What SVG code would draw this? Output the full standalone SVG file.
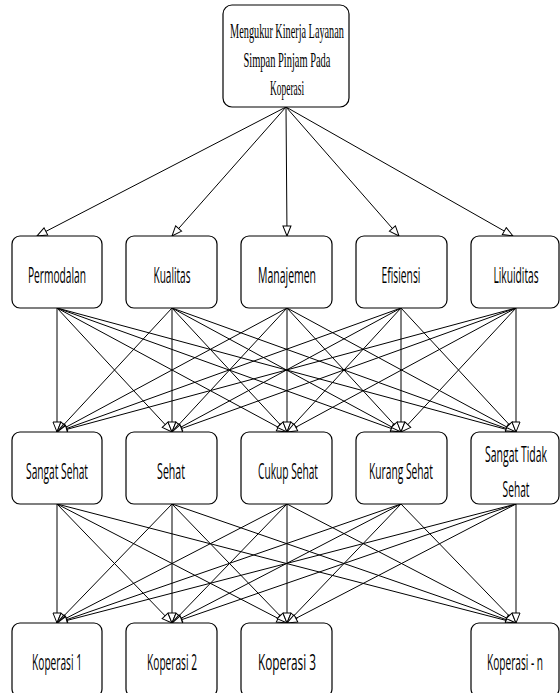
<svg xmlns="http://www.w3.org/2000/svg" width="560" height="693" viewBox="0 0 560 693">
<style>
.box{fill:#fff;stroke:#000;stroke-width:1.2}
.t{font-family:"Open Sans","Liberation Sans",sans-serif;font-size:22px;fill:#000;text-anchor:middle}
.s{font-family:"Liberation Serif","Times New Roman",serif;font-size:22px;fill:#000;text-anchor:middle}
.c line{stroke:#000;stroke-width:1;marker-end:url(#a)}
</style>
<defs>
<marker id="a" viewBox="0 0 12 10" refX="11" refY="5" markerWidth="12" markerHeight="10" markerUnits="userSpaceOnUse" orient="auto">
<path d="M1,1 L11,5 L1,9 Z" fill="#fff" stroke="#000" stroke-width="1"/>
</marker>
</defs>
<rect width="560" height="693" fill="#fff"/>
<g class="c" id="connectors">
<line x1="286" y1="107" x2="37" y2="236"/>
<line x1="286" y1="107" x2="172" y2="236"/>
<line x1="286" y1="107" x2="287" y2="236"/>
<line x1="286" y1="107" x2="399" y2="236"/>
<line x1="286" y1="107" x2="513" y2="236"/>

<line x1="57" y1="308" x2="57" y2="432"/>
<line x1="57" y1="308" x2="172" y2="432"/>
<line x1="57" y1="308" x2="287" y2="432"/>
<line x1="57" y1="308" x2="401" y2="432"/>
<line x1="57" y1="308" x2="516" y2="432"/>
<line x1="172" y1="308" x2="57" y2="432"/>
<line x1="172" y1="308" x2="172" y2="432"/>
<line x1="172" y1="308" x2="287" y2="432"/>
<line x1="172" y1="308" x2="401" y2="432"/>
<line x1="172" y1="308" x2="516" y2="432"/>
<line x1="287" y1="308" x2="57" y2="432"/>
<line x1="287" y1="308" x2="172" y2="432"/>
<line x1="287" y1="308" x2="287" y2="432"/>
<line x1="287" y1="308" x2="401" y2="432"/>
<line x1="287" y1="308" x2="516" y2="432"/>
<line x1="401" y1="308" x2="57" y2="432"/>
<line x1="401" y1="308" x2="172" y2="432"/>
<line x1="401" y1="308" x2="287" y2="432"/>
<line x1="401" y1="308" x2="401" y2="432"/>
<line x1="401" y1="308" x2="516" y2="432"/>
<line x1="516" y1="308" x2="57" y2="432"/>
<line x1="516" y1="308" x2="172" y2="432"/>
<line x1="516" y1="308" x2="287" y2="432"/>
<line x1="516" y1="308" x2="401" y2="432"/>
<line x1="516" y1="308" x2="516" y2="432"/>

<line x1="57" y1="504" x2="57" y2="623"/>
<line x1="57" y1="504" x2="172" y2="623"/>
<line x1="57" y1="504" x2="287" y2="623"/>
<line x1="57" y1="504" x2="516" y2="623"/>
<line x1="172" y1="504" x2="57" y2="623"/>
<line x1="172" y1="504" x2="172" y2="623"/>
<line x1="172" y1="504" x2="287" y2="623"/>
<line x1="172" y1="504" x2="516" y2="623"/>
<line x1="287" y1="504" x2="57" y2="623"/>
<line x1="287" y1="504" x2="172" y2="623"/>
<line x1="287" y1="504" x2="287" y2="623"/>
<line x1="287" y1="504" x2="516" y2="623"/>
<line x1="401" y1="504" x2="57" y2="623"/>
<line x1="401" y1="504" x2="172" y2="623"/>
<line x1="401" y1="504" x2="287" y2="623"/>
<line x1="401" y1="504" x2="516" y2="623"/>
<line x1="516" y1="504" x2="57" y2="623"/>
<line x1="516" y1="504" x2="172" y2="623"/>
<line x1="516" y1="504" x2="287" y2="623"/>
<line x1="516" y1="504" x2="516" y2="623"/>
</g>

<g id="root"><rect class="box" x="223" y="5" width="126" height="102" rx="9"/>
<text class="s" transform="translate(287,38) scale(0.48,1)" textLength="237" lengthAdjust="spacingAndGlyphs">Mengukur Kinerja Layanan</text>
<text class="s" transform="translate(287,67) scale(0.48,1)" textLength="181" lengthAdjust="spacingAndGlyphs">Simpan Pinjam Pada</text>
<text class="s" transform="translate(287,95) scale(0.48,1)" textLength="71" lengthAdjust="spacingAndGlyphs">Koperasi</text></g>

<g id="permodalan"><rect class="box" x="12" y="236" width="90" height="72" rx="8"/><text class="t" transform="translate(57,283) scale(0.48,1)" textLength="121" lengthAdjust="spacingAndGlyphs">Permodalan</text></g>
<g id="kualitas"><rect class="box" x="126" y="236" width="91" height="72" rx="8"/><text class="t" transform="translate(172,283) scale(0.48,1)" textLength="77" lengthAdjust="spacingAndGlyphs">Kualitas</text></g>
<g id="manajemen"><rect class="box" x="241" y="236" width="91" height="72" rx="8"/><text class="t" transform="translate(287,283) scale(0.48,1)" textLength="121" lengthAdjust="spacingAndGlyphs">Manajemen</text></g>
<g id="efisiensi"><rect class="box" x="356" y="236" width="91" height="72" rx="8"/><text class="t" transform="translate(401,283) scale(0.48,1)" textLength="81" lengthAdjust="spacingAndGlyphs">Efisiensi</text></g>
<g id="likuiditas"><rect class="box" x="471" y="236" width="88" height="72" rx="8"/><text class="t" transform="translate(516,283) scale(0.48,1)" textLength="94" lengthAdjust="spacingAndGlyphs">Likuiditas</text></g>

<g id="sangat-sehat"><rect class="box" x="12" y="432" width="90" height="72" rx="8"/><text class="t" transform="translate(57,479) scale(0.48,1)" textLength="129" lengthAdjust="spacingAndGlyphs">Sangat Sehat</text></g>
<g id="sehat"><rect class="box" x="126" y="432" width="91" height="72" rx="8"/><text class="t" transform="translate(171,479) scale(0.48,1)" textLength="58" lengthAdjust="spacingAndGlyphs">Sehat</text></g>
<g id="cukup-sehat"><rect class="box" x="241" y="432" width="91" height="72" rx="8"/><text class="t" transform="translate(288,479) scale(0.48,1)" textLength="125" lengthAdjust="spacingAndGlyphs">Cukup Sehat</text></g>
<g id="kurang-sehat"><rect class="box" x="356" y="432" width="91" height="72" rx="8"/><text class="t" transform="translate(401,479) scale(0.48,1)" textLength="133" lengthAdjust="spacingAndGlyphs">Kurang Sehat</text></g>
<g id="sangat-tidak-sehat"><rect class="box" x="471" y="432" width="88" height="72" rx="8"/><text class="t" transform="translate(516,462) scale(0.48,1)" textLength="129" lengthAdjust="spacingAndGlyphs">Sangat Tidak</text><text class="t" transform="translate(516,497) scale(0.48,1)" textLength="56" lengthAdjust="spacingAndGlyphs">Sehat</text></g>

<g id="koperasi-1"><rect class="box" x="12" y="623" width="90" height="74" rx="8"/><text class="t" transform="translate(57,670) scale(0.48,1)" textLength="104" lengthAdjust="spacingAndGlyphs">Koperasi 1</text></g>
<g id="koperasi-2"><rect class="box" x="126" y="623" width="91" height="74" rx="8"/><text class="t" transform="translate(172,670) scale(0.48,1)" textLength="104" lengthAdjust="spacingAndGlyphs">Koperasi 2</text></g>
<g id="koperasi-3"><rect class="box" x="241" y="623" width="91" height="74" rx="8"/><text class="t" transform="translate(287,670) scale(0.48,1)" textLength="121" lengthAdjust="spacingAndGlyphs">Koperasi 3</text></g>
<g id="koperasi-n"><rect class="box" x="471" y="623" width="88" height="74" rx="8"/><text class="t" transform="translate(515,670) scale(0.48,1)" textLength="117" lengthAdjust="spacingAndGlyphs">Koperasi - n</text></g>
</svg>
